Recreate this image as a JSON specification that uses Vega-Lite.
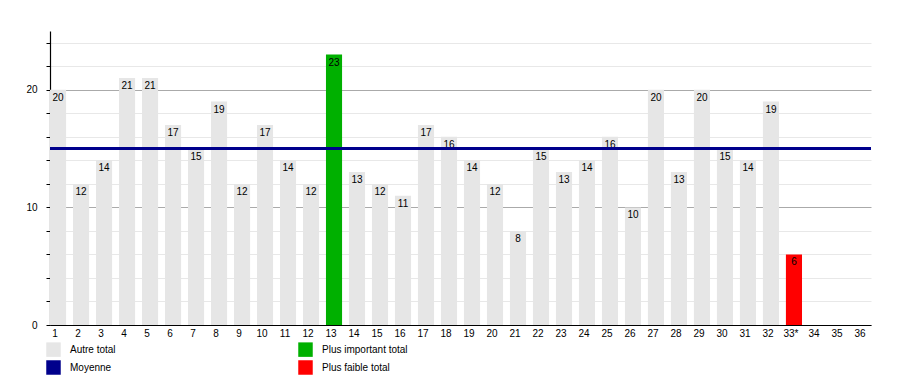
{
  "$schema": "https://vega.github.io/schema/vega-lite/v6.json",
  "width": 821,
  "height": 294,
  "autosize": {"type": "none"},
  "padding": {"left": 50, "top": 31, "right": 29, "bottom": 50},
  "background": "white",
  "config": {
    "view": {"stroke": null},
    "font": "Liberation Sans",
    "axis": {"labelFont": "Liberation Sans", "labelColor": "#000", "labelFontSize": 10}
  },
  "datasets": {
    "bars": [
      {"cat": "1", "value": 20, "type": "Autre total"},
      {"cat": "2", "value": 12, "type": "Autre total"},
      {"cat": "3", "value": 14, "type": "Autre total"},
      {"cat": "4", "value": 21, "type": "Autre total"},
      {"cat": "5", "value": 21, "type": "Autre total"},
      {"cat": "6", "value": 17, "type": "Autre total"},
      {"cat": "7", "value": 15, "type": "Autre total"},
      {"cat": "8", "value": 19, "type": "Autre total"},
      {"cat": "9", "value": 12, "type": "Autre total"},
      {"cat": "10", "value": 17, "type": "Autre total"},
      {"cat": "11", "value": 14, "type": "Autre total"},
      {"cat": "12", "value": 12, "type": "Autre total"},
      {"cat": "13", "value": 23, "type": "Plus important total"},
      {"cat": "14", "value": 13, "type": "Autre total"},
      {"cat": "15", "value": 12, "type": "Autre total"},
      {"cat": "16", "value": 11, "type": "Autre total"},
      {"cat": "17", "value": 17, "type": "Autre total"},
      {"cat": "18", "value": 16, "type": "Autre total"},
      {"cat": "19", "value": 14, "type": "Autre total"},
      {"cat": "20", "value": 12, "type": "Autre total"},
      {"cat": "21", "value": 8, "type": "Autre total"},
      {"cat": "22", "value": 15, "type": "Autre total"},
      {"cat": "23", "value": 13, "type": "Autre total"},
      {"cat": "24", "value": 14, "type": "Autre total"},
      {"cat": "25", "value": 16, "type": "Autre total"},
      {"cat": "26", "value": 10, "type": "Autre total"},
      {"cat": "27", "value": 20, "type": "Autre total"},
      {"cat": "28", "value": 13, "type": "Autre total"},
      {"cat": "29", "value": 20, "type": "Autre total"},
      {"cat": "30", "value": 15, "type": "Autre total"},
      {"cat": "31", "value": 14, "type": "Autre total"},
      {"cat": "32", "value": 19, "type": "Autre total"},
      {"cat": "33*", "value": 6, "type": "Plus faible total"}
    ],
    "mean": [
      {"type": "Moyenne", "value": 15}
    ]
  },
  "layer": [
    {
      "data": {"name": "bars"},
      "mark": {"type": "bar"},
      "encoding": {
        "x": {
          "field": "cat", "type": "ordinal",
          "scale": {
            "domain": ["1","2","3","4","5","6","7","8","9","10","11","12","13","14","15","16","17","18","19","20","21","22","23","24","25","26","27","28","29","30","31","32","33*","34","35","36"],
            "paddingInner": 0.3, "paddingOuter": 0, "align": 0
          },
          "axis": {"title": null, "labelAngle": 0, "ticks": false, "labelPadding": 3, "labelOffset": -3, "domainColor": "#000", "domainWidth": 1.2, "grid": false}
        },
        "y": {
          "field": "value", "type": "quantitative",
          "scale": {"domain": [0, 25], "nice": false},
          "axis": {
            "title": null,
            "values": [0, 2, 4, 6, 8, 10, 12, 14, 16, 18, 20, 22, 24],
            "tickCount": 30,
            "labelExpr": "datum.value % 10 === 0 ? datum.label : ''",
            "domainColor": "#000", "domainWidth": 1.2,
            "tickColor": "#000", "tickSize": 4,
            "labelPadding": 9,
            "grid": true,
            "gridColor": {"condition": {"test": "datum.value % 10 === 0", "value": "#aaaaaa"}, "value": "#e8e8e8"}
          }
        },
        "color": {
          "field": "type", "type": "nominal",
          "scale": {
            "domain": ["Autre total", "Plus important total", "Moyenne", "Plus faible total"],
            "range": ["#e6e6e6", "#00b000", "#00008c", "#ff0000"]
          },
          "legend": {
            "title": null,
            "orient": "none",
            "legendX": -4,
            "legendY": 311,
            "direction": "horizontal",
            "columns": 2,
            "columnPadding": 182,
            "rowPadding": 3,
            "symbolType": "square",
            "symbolSize": 210,
            "symbolStrokeWidth": 0,
            "symbolOpacity": 1,
            "labelFontSize": 10,
            "labelFont": "Liberation Sans",
            "labelColor": "#000",
            "labelOffset": 9
          }
        }
      }
    },
    {
      "data": {"name": "bars"},
      "mark": {"type": "text", "baseline": "top", "dy": 3, "fontSize": 10, "font": "Liberation Sans", "color": "#000"},
      "encoding": {
        "x": {"field": "cat", "type": "ordinal"},
        "y": {"field": "value", "type": "quantitative"},
        "text": {"field": "value", "type": "quantitative"}
      }
    },
    {
      "data": {"name": "mean"},
      "mark": {"type": "rule", "strokeWidth": 3},
      "encoding": {
        "y": {"field": "value", "type": "quantitative"},
        "color": {"field": "type", "type": "nominal"}
      }
    }
  ]
}
